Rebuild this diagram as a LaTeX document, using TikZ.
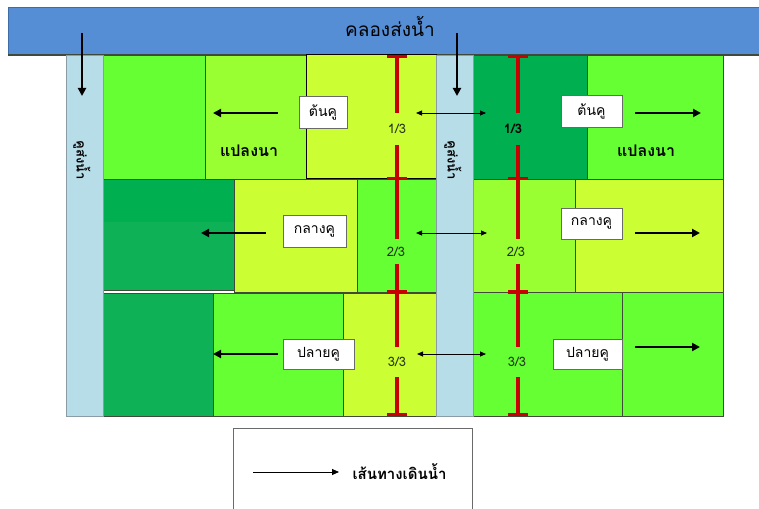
\documentclass[tikz,border=0pt]{standalone}
\usepackage{fontspec}
\setmainfont[Script=Thai]{Loma}
\usetikzlibrary{arrows.meta}
\definecolor{canalblue}{HTML}{558ED5}
\definecolor{canaledge}{HTML}{3D6CA6}
\definecolor{ditch}{HTML}{B7DDE8}
\definecolor{ditchedge}{HTML}{8A9DA6}
\definecolor{gBright}{HTML}{66FF33}
\definecolor{gYellow}{HTML}{99FF33}
\definecolor{gLime}{HTML}{CCFF33}
\definecolor{gDark}{HTML}{00B050}
\definecolor{gDarkB}{HTML}{0EB156}
\definecolor{redmark}{HTML}{C80000}
\definecolor{plotedge}{HTML}{3F4A3A}
\definecolor{boxedge}{HTML}{6A6A6A}
\definecolor{fractxt}{HTML}{26301F}
\tikzset{
  field/.style={draw=plotedge, line width=0.7pt},
  ditchbar/.style={fill=ditch, draw=ditchedge, line width=0.9pt},
  labelbox/.style={draw=boxedge, fill=white, line width=0.8pt, inner sep=0pt,
    font=\fontsize{14}{16}\selectfont},
  plotname/.style={font=\fontsize{16}{18}\selectfont\bfseries},
  frac/.style={inner sep=0pt, minimum height=28pt, text=fractxt,
    font=\fontsize{13}{15}\selectfont},
  tickmark/.style={fill=redmark, inner sep=0pt, minimum width=20pt, minimum height=3pt},
  redline/.style={draw=redmark, line width=3.6pt},
  flow/.style={line width=2.4pt, -{Triangle[length=8pt,width=8pt]}},
  link/.style={line width=0.8pt, {Triangle[length=6pt,width=5pt]}-{Triangle[length=6pt,width=5pt]}},
  legendarrow/.style={line width=0.8pt, -{Triangle[length=7pt,width=6pt]}},
}
\begin{document}
\begin{tikzpicture}[x=1pt,y=-1pt]
\useasboundingbox (0,0) rectangle (759,508);
\clip (0,0) rectangle (759,508);

% main supply canal along the top
\fill[canalblue] (8,8) rectangle (770,55);
\draw[canaledge, line width=1pt] (8,55) -- (8,8) -- (770,8);
\draw[plotedge, line width=1.2pt] (8,55) -- (770,55);
\node[font=\fontsize{19}{21}\selectfont] (canal) at (390,26) {คลองส่งน้ำ};

% paddy plots, left block
\fill[gBright] (103,55) rectangle (205,179);
\fill[gYellow] (205,55) rectangle (306,179);
\fill[gLime]   (306,55) rectangle (436,178);
\draw[field] (103,55) rectangle (205,179);
\draw[field] (205,55) rectangle (306,179);
\draw[black, line width=1pt] (306,55) rectangle (436,178);

\fill[gDark]  (103,179) rectangle (234,222);
\fill[gDarkB] (103,222) rectangle (234,290);
\fill[gLime]  (234,179) rectangle (357,292);
\fill[gBright](357,179) rectangle (436,292);
\draw[field] (103,179) rectangle (234,290);
\draw[field] (234,179) rectangle (357,292);
\draw[field] (357,179) rectangle (436,292);

\fill[gDarkB] (103,293) rectangle (213,416);
\fill[gBright](213,293) rectangle (343,416);
\fill[gLime]  (343,293) rectangle (436,416);
\draw[field] (103,293) rectangle (213,416);
\draw[field] (213,293) rectangle (343,416);
\draw[field] (343,293) rectangle (436,416);

% paddy plots, right block
\fill[gDark]   (473,55) rectangle (587,179);
\fill[gBright] (587,55) rectangle (723,179);
\draw[field] (473,55) rectangle (587,179);
\draw[field] (587,55) rectangle (723,179);

\fill[gYellow] (473,179) rectangle (575,292);
\fill[gLime]   (575,179) rectangle (723,292);
\draw[field] (473,179) rectangle (575,292);
\draw[field] (575,179) rectangle (723,292);

\fill[gBright] (473,292) rectangle (622,416);
\fill[gBright] (622,292) rectangle (723,416);
\draw[field] (473,292) rectangle (622,416);
\draw[field] (622,292) rectangle (723,416);

% field ditches
\draw[ditchbar] (66,55) rectangle (103,416);
\draw[ditchbar] (436,55) rectangle (473,416);
\node[rotate=-90, font=\fontsize{13}{15}\selectfont\bfseries] (ditchA) at (82,160) {คูส่งน้ำ};
\node[rotate=-90, font=\fontsize{13}{15}\selectfont\bfseries] (ditchB) at (453,160) {คูส่งน้ำ};

% inflow from the main canal into the ditches
\coordinate (inA0) at (82,33);  \coordinate (inA1) at (82,96);
\coordinate (inB0) at (457,33); \coordinate (inB1) at (457,96);
\draw[flow] (inA0) -- (inA1);
\draw[flow] (inB0) -- (inB1);

% plot names
\node[plotname] (plotA) at (249,151) {แปลงนา};
\node[plotname] (plotB) at (646,151) {แปลงนา};

% red division marks along the ditches (thirds)
\foreach \px/\nm in {397/L,518/R}{
  \node[tickmark] (t0\nm) at (\px,56.5) {};
  \node[tickmark] (t1\nm) at (\px,178.5) {};
  \node[tickmark] (t2\nm) at (\px,292) {};
  \node[tickmark] (t3\nm) at (\px,414.5) {};
}
\node[frac, minimum height=32pt] (f1L) at (397,129) {1/3};
\node[frac, minimum height=32pt, text=black, font=\fontsize{13}{15}\selectfont\bfseries] (f1R) at (513,129) {1/3};
\node[frac, minimum height=25pt] (f2L) at (396,251.5) {2/3};
\node[frac, minimum height=25pt] (f2R) at (516,251.5) {2/3};
\node[frac, minimum height=30pt] (f3L) at (397,362) {3/3};
\node[frac, minimum height=30pt] (f3R) at (517,362) {3/3};
\foreach \nm in {L,R}{
  \draw[redline] (t0\nm.center) -- (t0\nm.center |- f1\nm.north);
  \draw[redline] (t0\nm.center |- f1\nm.south) -- (t0\nm.center |- f2\nm.north);
  \draw[redline] (t0\nm.center |- f2\nm.south) -- (t0\nm.center |- f3\nm.north);
  \draw[redline] (t0\nm.center |- f3\nm.south) -- (t3\nm.center);
  \foreach \k in {0,1,2,3}{ \fill[redmark] (t\k\nm.south west) rectangle (t\k\nm.north east); }
}

% links across the ditch between the two blocks
\coordinate (x1a) at (416,113); \coordinate (x1b) at (486,113);
\coordinate (x2a) at (416,233); \coordinate (x2b) at (487,233);
\coordinate (x3a) at (417,354); \coordinate (x3b) at (486,354);
\draw[link] (x1a) -- (x1b);
\draw[link] (x2a) -- (x2b);
\draw[link] (x3a) -- (x3b);

% ditch sections
\node[labelbox, minimum width=48pt, minimum height=32pt] (headL) at (323,112) {ต้นคู};
\node[labelbox, minimum width=61pt, minimum height=32pt] (headR) at (591.5,111) {ต้นคู};
\node[labelbox, minimum width=63pt, minimum height=32pt] (midL) at (314.5,231) {กลางคู};
\node[labelbox, minimum width=61pt, minimum height=31pt] (midR) at (591.5,223.5) {กลางคู};
\node[labelbox, minimum width=71pt, minimum height=30pt] (tailL) at (318.5,354) {ปลายคู};
\node[labelbox, minimum width=69pt, minimum height=30pt] (tailR) at (587.5,354) {ปลายคู};

% water paths from the ditch into the plots
\coordinate (wL1) at (213,113); \coordinate (wR1) at (701,113);
\coordinate (wL2) at (201,233); \coordinate (wR2) at (700,233);
\coordinate (wL3) at (213,354); \coordinate (wR3) at (700,347);
\draw[flow] (headL.west) ++(-21,1) -- (wL1);
\draw[flow] (headR.east) ++(13,2) -- (wR1);
\draw[flow] (midL.west) ++(-17,2) -- (wL2);
\draw[flow] (midR.east) ++(13,9.5) -- (wR2);
\draw[flow] (tailL.west) ++(-5,0) -- (wL3);
\draw[flow] (tailR.east) ++(13,-7) -- (wR3);

% legend
\draw[boxedge, fill=white, line width=0.9pt] (233,428) rectangle (472,520);
\coordinate (lg0) at (253,472);
\node[anchor=west, font=\fontsize{15}{17}\selectfont\bfseries] (lgtext) at (349,472) {เส้นทางเดินน้ำ};
\draw[legendarrow] (lg0) -- ([xshift=-10pt]lgtext.west);
\end{tikzpicture}
\end{document}
